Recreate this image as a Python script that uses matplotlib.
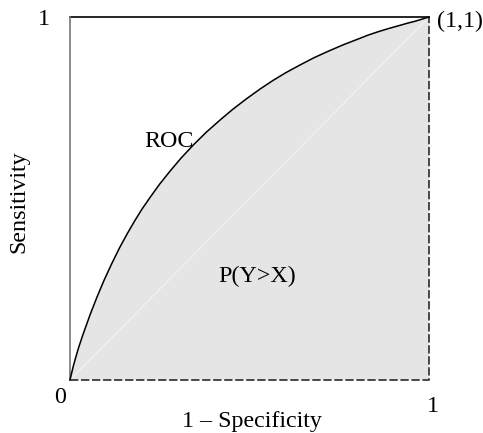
import matplotlib
matplotlib.use("Agg")
import matplotlib.pyplot as plt

# ROC curve points (false positive rate, true positive rate)
fpr = [0.000, 0.005, 0.010, 0.016, 0.023, 0.035, 0.056, 0.075, 0.095, 0.117,
       0.139, 0.160, 0.180, 0.200, 0.223, 0.250, 0.280, 0.310, 0.343, 0.380,
       0.420, 0.455, 0.492, 0.530, 0.565, 0.600, 0.641, 0.680, 0.720, 0.760,
       0.799, 0.830, 0.860, 0.890, 0.919, 0.940, 0.960, 0.980, 1.000]
tpr = [0.000, 0.021, 0.041, 0.062, 0.086, 0.122, 0.180, 0.228, 0.275, 0.322,
       0.366, 0.404, 0.438, 0.470, 0.503, 0.540, 0.577, 0.612, 0.647, 0.683,
       0.718, 0.747, 0.775, 0.802, 0.825, 0.846, 0.868, 0.888, 0.906, 0.923,
       0.938, 0.950, 0.960, 0.969, 0.977, 0.983, 0.988, 0.994, 1.000]

corner_labels = ["0", "1", "1", "(1,1)"]
curve_label = "ROC"
area_label = "P(Y>X)"
x_label = "1 \u2013 Specificity"
y_label = "Sensitivity"

plt.rcParams["font.family"] = ["Liberation Serif", "DejaVu Serif"]

fig = plt.figure(figsize=(4.83, 4.33), dpi=100)
ax = fig.add_axes([0.1449, 0.1224, 0.7433, 0.8383])
ax.set_xlim(0, 1)
ax.set_ylim(0, 1)
ax.axis("off")

# shaded area under the curve, with dashed outline on bottom and right
poly_x = fpr + [1.0, 0.0]
poly_y = tpr + [0.0, 0.0]
ax.fill(poly_x, poly_y, facecolor="#e5e5e5", edgecolor="none", zorder=1)
ax.plot([0, 1, 1], [0, 0, 1], color="#3a3a3a", lw=1.3, ls=(0, (4.6, 1.5)),
        clip_on=False, zorder=3)

# chance diagonal, faint
ax.plot([0, 1], [0, 1], color="#f2f2f2", lw=0.8, zorder=2)

# frame: top solid black, left grey
ax.plot([0, 1], [1, 1], color="black", lw=1.2, clip_on=False, zorder=3)
ax.plot([0, 0], [0, 1], color="#777777", lw=1.2, clip_on=False, zorder=3)

# ROC curve
ax.plot(fpr, tpr, color="black", lw=1.1, clip_on=False, zorder=4,
        solid_joinstyle="round")

fs = 17.3
ax.text(0.276, 0.642, curve_label, fontsize=fs, ha="center", va="baseline")
ax.text(0.522, 0.270, area_label, fontsize=fs, ha="center", va="baseline")
ax.text(-0.028, -0.063, corner_labels[0], fontsize=fs, ha="center",
        va="baseline")
ax.text(-0.056, 0.978, corner_labels[1], fontsize=fs, ha="right",
        va="baseline")
ax.text(1.011, -0.088, corner_labels[2], fontsize=fs, ha="center",
        va="baseline")
ax.text(1.022, 0.972, corner_labels[3], fontsize=fs, ha="left",
        va="baseline")
ax.text(0.507, -0.129, x_label, fontsize=fs, ha="center", va="baseline")
ax.text(-0.142, 0.49, y_label, fontsize=fs, ha="center", va="center",
        rotation=90)

fig.savefig("out.png", dpi=100)
